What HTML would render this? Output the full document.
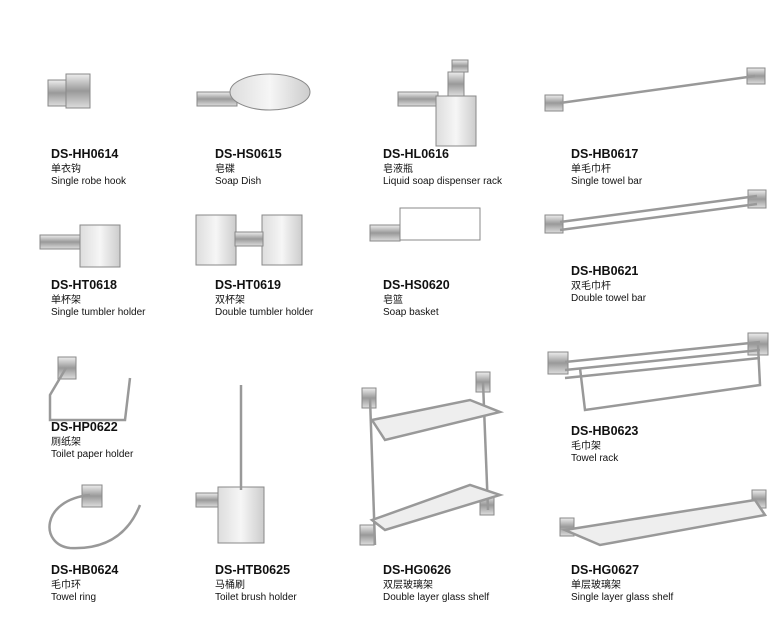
<!DOCTYPE html>
<html><head><meta charset="utf-8"><style>
body{margin:0;width:780px;height:636px;background:#fff;position:relative;overflow:hidden;font-family:"Liberation Sans","Noto Sans CJK SC",sans-serif;color:#111}
.l{position:absolute;line-height:1}
.c{font-weight:bold;font-size:12.5px}
.z{font-size:10px}
.e{font-size:10px}
svg{position:absolute;left:0;top:0}
</style></head><body>
<svg width="780" height="636" viewBox="0 0 780 636">
<defs><linearGradient id="m" x1="0" y1="0" x2="0" y2="1"><stop offset="0" stop-color="#eee"/><stop offset=".5" stop-color="#999"/><stop offset="1" stop-color="#ddd"/></linearGradient>
<linearGradient id="g" x1="0" y1="0" x2="1" y2="0"><stop offset="0" stop-color="#ddd"/><stop offset=".5" stop-color="#f6f6f6"/><stop offset="1" stop-color="#ccc"/></linearGradient></defs>
<g fill="url(#m)" stroke="#888" stroke-width="1">
<!-- robe hook -->
<rect x="48" y="80" width="22" height="26"/><rect x="66" y="74" width="24" height="34"/>
<!-- soap dish -->
<rect x="197" y="92" width="40" height="14"/><ellipse cx="270" cy="92" rx="40" ry="18" fill="url(#g)"/>
<!-- soap dispenser -->
<rect x="398" y="92" width="40" height="14"/><rect x="436" y="96" width="40" height="50" fill="url(#g)"/><rect x="448" y="72" width="16" height="24"/><rect x="452" y="60" width="16" height="12"/>
<!-- towel bar -->
<rect x="545" y="95" width="18" height="16"/><rect x="747" y="68" width="18" height="16"/>
<!-- tumbler -->
<rect x="40" y="235" width="42" height="14"/><rect x="80" y="225" width="40" height="42" fill="url(#g)"/>
<!-- double tumbler -->
<rect x="196" y="215" width="40" height="50" fill="url(#g)"/><rect x="262" y="215" width="40" height="50" fill="url(#g)"/><rect x="235" y="232" width="28" height="14"/>
<!-- soap basket -->
<rect x="370" y="225" width="30" height="16"/><rect x="400" y="208" width="80" height="32" fill="none"/>
<!-- double towel bar -->
<rect x="545" y="215" width="18" height="18"/><rect x="748" y="190" width="18" height="18"/>
<!-- towel rack -->
<rect x="548" y="352" width="20" height="22"/><rect x="748" y="333" width="20" height="22"/>
<!-- toilet paper -->
<rect x="58" y="357" width="18" height="22"/>
<!-- towel ring -->
<rect x="82" y="485" width="20" height="22"/>
<!-- brush holder -->
<rect x="196" y="493" width="40" height="14"/><rect x="218" y="487" width="46" height="56" fill="url(#g)"/>
<!-- glass shelves -->
<rect x="362" y="388" width="14" height="20"/><rect x="476" y="372" width="14" height="20"/>
<rect x="360" y="525" width="14" height="20"/><rect x="480" y="495" width="14" height="20"/>
<rect x="560" y="518" width="14" height="18"/><rect x="752" y="490" width="14" height="18"/>
</g>
<g stroke="#999" stroke-width="2.5" fill="none">
<line x1="560" y1="103" x2="755" y2="76"/>
<line x1="560" y1="222" x2="757" y2="196"/><line x1="560" y1="230" x2="757" y2="204"/>
<line x1="565" y1="362" x2="760" y2="342"/><line x1="565" y1="370" x2="760" y2="350"/><line x1="565" y1="378" x2="760" y2="358"/>
<path d="M 580 368 L 585 410 L 760 385 L 758 345"/>
<path d="M 66 368 L 50 395 L 50 420 L 125 420 L 130 378"/>
<path d="M 90 495 C 40 500, 40 545, 70 548 C 110 550, 130 530, 140 505"/>
<line x1="241" y1="490" x2="241" y2="385"/>
<line x1="370" y1="398" x2="375" y2="545"/><line x1="483" y1="382" x2="488" y2="510"/>
<path d="M 372 420 L 470 400 L 500 412 L 385 440 Z" fill="#eee"/>
<path d="M 372 520 L 470 485 L 500 495 L 385 530 Z" fill="#eee"/>
<path d="M 565 530 L 755 500 L 765 515 L 600 545 Z" fill="#eee"/>
</g>
</svg>
<div class="l c" style="left:51px;top:148px">DS-HH0614</div><div class="l z" style="left:51px;top:165px">单衣钩</div><div class="l e" style="left:51px;top:177px">Single robe hook</div>
<div class="l c" style="left:215px;top:148px">DS-HS0615</div><div class="l z" style="left:215px;top:165px">皂碟</div><div class="l e" style="left:215px;top:177px">Soap Dish</div>
<div class="l c" style="left:383px;top:148px">DS-HL0616</div><div class="l z" style="left:383px;top:165px">皂液瓶</div><div class="l e" style="left:383px;top:177px">Liquid soap dispenser rack</div>
<div class="l c" style="left:571px;top:148px">DS-HB0617</div><div class="l z" style="left:571px;top:165px">单毛巾杆</div><div class="l e" style="left:571px;top:177px">Single towel bar</div>
<div class="l c" style="left:51px;top:279px">DS-HT0618</div><div class="l z" style="left:51px;top:296px">单杯架</div><div class="l e" style="left:51px;top:308px">Single tumbler holder</div>
<div class="l c" style="left:215px;top:279px">DS-HT0619</div><div class="l z" style="left:215px;top:296px">双杯架</div><div class="l e" style="left:215px;top:308px">Double tumbler holder</div>
<div class="l c" style="left:383px;top:279px">DS-HS0620</div><div class="l z" style="left:383px;top:296px">皂篮</div><div class="l e" style="left:383px;top:308px">Soap basket</div>
<div class="l c" style="left:571px;top:265px">DS-HB0621</div><div class="l z" style="left:571px;top:282px">双毛巾杆</div><div class="l e" style="left:571px;top:294px">Double towel bar</div>
<div class="l c" style="left:51px;top:421px">DS-HP0622</div><div class="l z" style="left:51px;top:438px">厕纸架</div><div class="l e" style="left:51px;top:450px">Toilet paper holder</div>
<div class="l c" style="left:571px;top:425px">DS-HB0623</div><div class="l z" style="left:571px;top:442px">毛巾架</div><div class="l e" style="left:571px;top:454px">Towel rack</div>
<div class="l c" style="left:51px;top:564px">DS-HB0624</div><div class="l z" style="left:51px;top:581px">毛巾环</div><div class="l e" style="left:51px;top:593px">Towel ring</div>
<div class="l c" style="left:215px;top:564px">DS-HTB0625</div><div class="l z" style="left:215px;top:581px">马桶刷</div><div class="l e" style="left:215px;top:593px">Toilet brush holder</div>
<div class="l c" style="left:383px;top:564px">DS-HG0626</div><div class="l z" style="left:383px;top:581px">双层玻璃架</div><div class="l e" style="left:383px;top:593px">Double layer glass shelf</div>
<div class="l c" style="left:571px;top:564px">DS-HG0627</div><div class="l z" style="left:571px;top:581px">单层玻璃架</div><div class="l e" style="left:571px;top:593px">Single layer glass shelf</div>
</body></html>
